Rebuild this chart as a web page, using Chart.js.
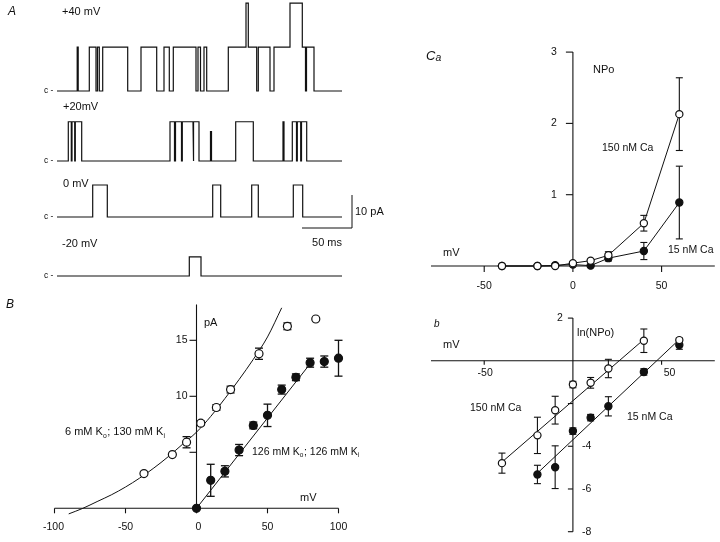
<!DOCTYPE html>
<html><head><meta charset="utf-8">
<script src="https://cdn.jsdelivr.net/npm/chart.js@4"></script>
<style>
html,body{margin:0;padding:0;background:#fff;}
#wrap{position:relative;width:720px;height:542px;background:#fff;overflow:hidden;}
#wrap canvas{position:absolute;left:0;top:0;}
</style></head><body>
<div id="wrap">
<canvas id="cA" width="720" height="542"></canvas>
<canvas id="cB" width="720" height="542"></canvas>
<canvas id="cCa" width="720" height="542"></canvas>
<canvas id="cCb" width="720" height="542"></canvas>
</div>
<script>
// ================= DATA =================
// Panel A: single-channel records (time in ms, level = number of open channels)
const traceLabels = ['+40 mV', '+20mV', '0 mV', '-20 mV'];
const t40 = [0, 20.2, 21.2, 32.3, 39, 40.5, 42.3, 45.7, 70.7, 84, 99.7, 107, 112.3, 116.3, 139, 141, 143.5, 147, 149.7, 171.3, 189, 191.3, 199.7, 201.3, 213, 217, 233, 245.3, 248.5, 249.5, 257, 285];
const l40 = [0, 1, 0, 1, 0, 1, 0, 1, 0, 1, 0, 1, 0, 1, 0, 1, 0, 1, 0, 1, 2, 1, 0, 1, 0, 1, 2, 1, 0, 1, 0, 0];
const t20 = [0, 11.3, 14.3, 15, 17.7, 18.3, 24.7, 113, 117.5, 118.5, 124.5, 125.3, 136, 136.8, 142, 153.5, 154.5, 178.7, 196.3, 226, 227, 235.3, 239.5, 240.3, 243.7, 244.5, 249.7, 285];
const l20 = [0, 1, 0, 1, 0, 1, 0, 1, 0, 1, 0, 1, 0, 1, 0, 0.75, 0, 1, 0, 1, 0, 1, 0, 1, 0, 1, 0, 0];
const t0 = [0, 35.7, 50.3, 155.7, 163.7, 194.7, 201.3, 236.3, 245.7, 285];
const l0 = [0, 1, 0, 1, 0, 1, 0, 1, 0, 0];
const tm20 = [0, 132.3, 144, 285];
const lm20 = [0, 1, 0, 0];
const unitAmpPA = [13.3, 11.9, 9.7, 5.8];
const scaleBarMs = 50, scaleBarPA = 10;

// Panel B: I-V relations
const bOpenMV = [-37, -17, -7, 3, 14, 24, 44, 64, 84];
const bOpenPA = [3.1, 4.8, 5.9, 7.6, 9.0, 10.6, 13.8, 16.25, 16.9];
const bOpenErr = [0, 0, 0.5, 0.2, 0.25, 0.3, 0.5, 0.3, 0];
const bClosedMV = [0, 10, 20, 30, 40, 50, 60, 70, 80, 90, 100];
const bClosedPA = [0, 2.5, 3.3, 5.2, 7.4, 8.3, 10.6, 11.7, 13.0, 13.1, 13.4];
const bClosedErr = [0, 1.43, 0.5, 0.5, 0.3, 1.0, 0.4, 0.3, 0.4, 0.5, 1.6];
const bFitOpenMV = [-90, -80, -70, -60, -50, -40, -30, -20, -10, 0, 10, 20, 30, 40, 50, 60];
const bFitOpenPA = [-0.5, 0, 0.6, 1.2, 1.9, 2.7, 3.6, 4.6, 5.7, 6.8, 8.2, 9.8, 11.5, 13.3, 15.3, 17.9];
const bFitClosedMV = [0, 80];
const bFitClosedPA = [0, 12.9];
const bXTicks = [-100, -50, 0, 50, 100];
const bXTickLabels = ['-100', '-50', '0', '50', '100'];
const bYTicks = [5, 10, 15];
const bYTickLabels = ['', '10', '15'];

// Panel Ca: NPo vs voltage
const caMV = [-40, -20, -10, 0, 10, 20, 40, 60];
const npo150 = [0, 0, 0, 0.04, 0.075, 0.15, 0.60, 2.13];
const npo150Err = [0, 0, 0, 0, 0.02, 0.05, 0.11, 0.51];
const npo15 = [0, 0, 0.01, 0.02, 0.005, 0.11, 0.21, 0.89];
const npo15Err = [0, 0, 0, 0, 0, 0.04, 0.12, 0.51];
const caXTicks = [-50, 0, 50];
const caXTickLabels = ['-50', '0', '50'];
const caYTicks = [1, 2, 3];
const caYTickLabels = ['1', '2', '3'];

// Panel Cb: ln(NPo) vs voltage
const ln150MV = [-40, -20, -10, 0, 10, 20, 40, 60];
const ln150 = [-4.79, -3.49, -2.31, -1.11, -1.03, -0.36, 0.94, 0.97];
const ln150Err = [0.47, 0.85, 0.65, 0.15, 0.25, 0.43, 0.55, 0.1];
const ln15MV = [-20, -10, 0, 10, 20, 40, 60];
const ln15 = [-5.32, -4.98, -3.29, -2.66, -2.13, -0.52, 0.74];
const ln15Err = [0.43, 1.0, 0.15, 0.15, 0.45, 0.15, 0.2];
const lnFit150MV = [-40, 40];
const lnFit150 = [-4.74, 1.0];
const lnFit15MV = [-20, 60];
const lnFit15 = [-5.26, 1.0];
const cbXTicks = [-50, 50];
const cbXTickLabels = ['-50', '50'];
const cbYTicks = [2, -2, -4, -6, -8];
const cbYTickLabels = ['2', '', '-4', '-6', '-8'];

// ================= HELPERS =================
const FONT = '"Liberation Sans", Arial, Helvetica, sans-serif';
const W = 720, H = 542;
function fnt(size, style){ return (style ? style + ' ' : '') + size + 'px ' + FONT; }
function text(ctx, s, x, y, size, align, style){
  ctx.font = fnt(size, style); ctx.textAlign = align || 'left'; ctx.textBaseline = 'middle'; ctx.fillStyle = '#111';
  ctx.fillText(s, x, y);
}
function richText(ctx, parts, x, y, size){
  ctx.textAlign = 'left'; ctx.textBaseline = 'middle'; ctx.fillStyle = '#111';
  let cx = x;
  parts.forEach(p => {
    const sz = p.sub ? size * (p.scale || 0.62) : size;
    ctx.font = fnt(sz, p.style);
    ctx.fillText(p.t, cx, y + (p.sub ? size * (p.off != null ? p.off : 0.35) : 0));
    cx += ctx.measureText(p.t).width + (p.sub ? 0.5 : 0);
  });
}
function zip(xs, ys){ return xs.map((x, i) => ({x: x, y: ys[i]})); }
function pad(x0, x1, yTop, yBot){ return {left: x0, right: W - x1, top: yTop, bottom: H - yBot}; }
function stepData(ts, ls, amp){
  const d = [];
  for (let i = 0; i < ts.length; i++){
    if (i > 0) d.push({x: ts[i], y: ls[i-1] * amp});
    d.push({x: ts[i], y: ls[i] * amp});
  }
  return d;
}
function line(ctx, x0, y0, x1, y1){ ctx.beginPath(); ctx.moveTo(x0, y0); ctx.lineTo(x1, y1); ctx.stroke(); }

function axesPlugin(ax){
  return { id: 'axesDraw', beforeDatasetsDraw(chart){
    const ctx = chart.ctx, xs = chart.scales.x, ys = chart.scales.y;
    ctx.save(); ctx.strokeStyle = '#111'; ctx.lineWidth = 1.1;
    const yy = ys.getPixelForValue(ax.x.cross);
    line(ctx, xs.getPixelForValue(ax.x.from), yy, xs.getPixelForValue(ax.x.to), yy);
    ax.x.ticks.forEach(v => { const px = xs.getPixelForValue(v); line(ctx, px, yy, px, yy + ax.x.tickLen); });
    ax.x.ticks.forEach((v, i) => { const l = ax.x.labels[i]; if (l) text(ctx, l, xs.getPixelForValue(v) + (ax.x.dx ? ax.x.dx[i] : 0), yy + ax.x.labelDy, ax.size, 'center'); });
    const xx = xs.getPixelForValue(ax.y.cross);
    line(ctx, xx, ys.getPixelForValue(ax.y.from), xx, ys.getPixelForValue(ax.y.to));
    ax.y.ticks.forEach(v => { const py = ys.getPixelForValue(v); line(ctx, xx - ax.y.tickLen, py, xx, py); });
    ax.y.ticks.forEach((v, i) => {
      const l = ax.y.labels[i]; if (!l) return;
      const right = ax.y.side && ax.y.side[i] === 'r';
      text(ctx, l, right ? xx + ax.y.gapR : xx - ax.y.gap, ys.getPixelForValue(v), ax.size, right ? 'left' : 'right');
    });
    ctx.restore();
  }};
}
function errPlugin(specs, capHalf, lw){
  return { id: 'errbars', beforeDatasetsDraw(chart){
    const ctx = chart.ctx, ys = chart.scales.y;
    ctx.save(); ctx.strokeStyle = '#111'; ctx.lineWidth = lw;
    specs.forEach(s => {
      const meta = chart.getDatasetMeta(s.ds);
      const data = chart.data.datasets[s.ds].data;
      s.err.forEach((e, i) => {
        if (!e) return;
        const el = meta.data[i]; const v = data[i].y;
        const yT = ys.getPixelForValue(v + e), yB = ys.getPixelForValue(v - e);
        line(ctx, el.x, yT, el.x, yB);
        line(ctx, el.x - capHalf, yT, el.x + capHalf, yT);
        line(ctx, el.x - capHalf, yB, el.x + capHalf, yB);
      });
    });
    ctx.restore();
  }};
}
function textPlugin(fn){ return { id: 'texts', afterDraw(chart){ const ctx = chart.ctx; ctx.save(); fn(ctx, chart); ctx.restore(); } }; }
function ptDS(data, filled, r){
  return { data: data, showLine: false, pointRadius: r, pointBorderWidth: 1.2,
    pointBackgroundColor: filled ? '#111' : '#fff', pointBorderColor: '#111', clip: false };
}
function lnDS(data, extra){
  return Object.assign({ data: data, showLine: true, pointRadius: 0, borderColor: '#111', borderWidth: 1, clip: false }, extra || {});
}
const common = { responsive: false, animation: false, devicePixelRatio: 1, events: [],
  plugins: { legend: { display: false }, tooltip: { enabled: false } } };

// ================= PANEL A =================
const baselinesPx = [91, 161, 217, 276];
const pxPerPA = 3.3, aTop = 0, aBot = 300;
const traces = [[t40, l40], [t20, l20], [t0, l0], [tm20, lm20]];
const aScales = { x: { type: 'linear', min: 0, max: 300, display: false } };
baselinesPx.forEach((b, i) => {
  aScales['y' + i] = { type: 'linear', display: false, min: -(aBot - b) / pxPerPA, max: (b - aTop) / pxPerPA };
});
new Chart(document.getElementById('cA'), {
  type: 'scatter',
  data: { datasets: traces.map((tr, i) => lnDS(stepData(tr[0], tr[1], unitAmpPA[i]), { yAxisID: 'y' + i, borderWidth: 1.2 })) },
  options: Object.assign({}, common, { layout: { padding: pad(57, 357, aTop, aBot) }, scales: aScales }),
  plugins: [textPlugin((ctx, chart) => {
    const xs = chart.scales.x;
    text(ctx, 'A', 8, 12, 12, 'left', 'italic');
    const labelPos = [[62, 12], [63, 107], [63, 184], [62, 244]];
    traceLabels.forEach((s, i) => text(ctx, s, labelPos[i][0], labelPos[i][1], 11));
    baselinesPx.forEach((b, i) => text(ctx, 'c -', 44, chart.scales['y' + i].getPixelForValue(0), 8.5));
    // scale bar
    const ys = chart.scales.y2;
    const x1 = 352, yb = 228;
    const wpx = xs.getPixelForValue(scaleBarMs) - xs.getPixelForValue(0);
    const hpx = ys.getPixelForValue(0) - ys.getPixelForValue(scaleBarPA);
    ctx.strokeStyle = '#111'; ctx.lineWidth = 1;
    line(ctx, x1 - wpx, yb, x1, yb); line(ctx, x1, yb, x1, yb - hpx);
    text(ctx, scaleBarPA + ' pA', x1 + 3, yb - hpx / 2, 11);
    text(ctx, scaleBarMs + ' ms', x1 - wpx / 2, yb + 15, 11, 'center');
  })]
});

// ================= PANEL B =================
new Chart(document.getElementById('cB'), {
  type: 'scatter',
  data: { datasets: [
    ptDS(zip(bOpenMV, bOpenPA), false, 4),
    ptDS(zip(bClosedMV, bClosedPA), true, 4),
    lnDS(zip(bFitOpenMV, bFitOpenPA), { cubicInterpolationMode: 'monotone' }),
    lnDS(zip(bFitClosedMV, bFitClosedPA))
  ]},
  options: Object.assign({}, common, {
    layout: { padding: pad(54.5, 338.5, 306.7, 508.3) },
    scales: { x: { type: 'linear', min: -100, max: 100, display: false }, y: { type: 'linear', min: 0, max: 18, display: false } }
  }),
  plugins: [
    axesPlugin({ size: 10.5,
      x: { cross: 0, from: -100, to: 100, ticks: bXTicks, labels: bXTickLabels, tickLen: 5, labelDy: 19, dx: [-1, 0, 2, 0, 0] },
      y: { cross: 0, from: 0, to: 18.2, ticks: bYTicks, labels: bYTickLabels, tickLen: 7, gap: 9 } }),
    errPlugin([{ ds: 0, err: bOpenErr }, { ds: 1, err: bClosedErr }], 4, 1.3),
    textPlugin(ctx => {
      text(ctx, 'B', 6, 305, 12, 'left', 'italic');
      text(ctx, 'pA', 204, 323, 11);
      text(ctx, 'mV', 300, 498, 11);
      richText(ctx, [{t: '6 mM K'}, {t: 'o', sub: true}, {t: '; 130 mM K'}, {t: 'i', sub: true}], 65, 432, 11);
      richText(ctx, [{t: '126 mM K'}, {t: 'o', sub: true}, {t: '; 126 mM K'}, {t: 'i', sub: true}], 252, 452, 10.5);
    })
  ]
});

// ================= PANEL Ca =================
new Chart(document.getElementById('cCa'), {
  type: 'scatter',
  data: { datasets: [
    Object.assign(ptDS(zip(caMV, npo150), false, 3.6), { showLine: true, borderColor: '#111', borderWidth: 1 }),
    Object.assign(ptDS(zip(caMV, npo15), true, 3.6), { showLine: true, borderColor: '#111', borderWidth: 1 })
  ]},
  options: Object.assign({}, common, {
    layout: { padding: pad(431, 715.8, 52.1, 266) },
    scales: { x: { type: 'linear', min: -80, max: 80, display: false }, y: { type: 'linear', min: 0, max: 3, display: false } }
  }),
  plugins: [
    axesPlugin({ size: 10.5,
      x: { cross: 0, from: -80, to: 80, ticks: caXTicks, labels: caXTickLabels, tickLen: 6, labelDy: 20 },
      y: { cross: 0, from: 0, to: 3, ticks: caYTicks, labels: caYTickLabels, tickLen: 7, gap: 16 } }),
    errPlugin([{ ds: 0, err: npo150Err }, { ds: 1, err: npo15Err }], 3.5, 1.1),
    textPlugin(ctx => {
      richText(ctx, [{t: 'C', style: 'italic'}, {t: 'a', sub: true, style: 'italic', scale: 0.8, off: 0.15}], 426, 56, 13);
      text(ctx, 'NPo', 593, 70, 11);
      text(ctx, 'mV', 443, 253, 11);
      text(ctx, '150 nM Ca', 602, 148, 10.5);
      text(ctx, '15 nM Ca', 668, 250, 10.5);
    })
  ]
});

// ================= PANEL Cb =================
new Chart(document.getElementById('cCb'), {
  type: 'scatter',
  data: { datasets: [
    ptDS(zip(ln150MV, ln150), false, 3.6),
    ptDS(zip(ln15MV, ln15), true, 3.6),
    lnDS(zip(lnFit150MV, lnFit150)),
    lnDS(zip(lnFit15MV, lnFit15))
  ]},
  options: Object.assign({}, common, {
    layout: { padding: pad(431, 715.8, 318.1, 531.7) },
    scales: { x: { type: 'linear', min: -80, max: 80, display: false }, y: { type: 'linear', min: -8, max: 2, display: false } }
  }),
  plugins: [
    axesPlugin({ size: 10.5,
      x: { cross: 0, from: -80, to: 80, ticks: cbXTicks, labels: cbXTickLabels, tickLen: 4, labelDy: 12, dx: [1, 8] },
      y: { cross: 0, from: -8, to: 2, ticks: cbYTicks, labels: cbYTickLabels, tickLen: 5, gap: 10, gapR: 9, side: ['l', 'r', 'r', 'r', 'r'] } }),
    errPlugin([{ ds: 0, err: ln150Err }, { ds: 1, err: ln15Err }], 3.5, 1.1),
    textPlugin(ctx => {
      text(ctx, 'b', 434, 324, 10, 'left', 'italic');
      text(ctx, 'mV', 443, 345, 11);
      text(ctx, 'ln(NPo)', 577, 333, 11);
      text(ctx, '150 nM Ca', 470, 408, 10.5);
      text(ctx, '15 nM Ca', 627, 417, 10.5);
    })
  ]
});
</script>
</body></html>
